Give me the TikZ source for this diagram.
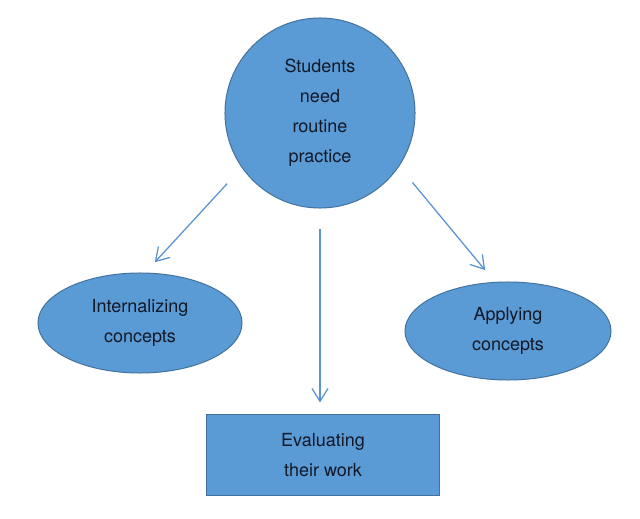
\documentclass[tikz,border=0pt]{standalone}
\usepackage{fontspec}
\setmainfont{TeX Gyre Heros}
\usepackage{tikz}
\usetikzlibrary{arrows.meta,shapes.geometric}
\definecolor{bubble}{HTML}{5B9BD5}
\definecolor{bubbleline}{HTML}{41719C}
\definecolor{arrowline}{HTML}{5A93D3}
\definecolor{ink}{HTML}{111827}

\begin{document}
\begin{tikzpicture}[
  x=0.025cm, y=-0.025cm,
  every node/.style={font=\fontsize{12.8}{21.3}\selectfont, text=ink, align=center},
  bubble/.style={fill=bubble, draw=bubbleline, line width=0.7pt},
  link/.style={draw=arrowline, line width=0.9pt, -{Straight Barb[length=3.2mm,width=4mm]}},
]
\useasboundingbox (0,0) rectangle (640,519);

% Central circle
\node[bubble, circle, minimum size=4.75cm] (need) at (320,113) {Students\\need\\routine\\practice};

% Outcomes
\node[bubble, ellipse, minimum width=5.1cm, minimum height=2.5cm] (intl) at (140,323) {Internalizing\\concepts};
\node[bubble, ellipse, minimum width=5.15cm, minimum height=2.45cm] (appl) at (508,331) {Applying\\concepts};
\node[bubble, rectangle, minimum width=5.825cm, minimum height=2cm] (eval) at (323,455) {Evaluating\\their work};

% Arrows
\draw[link, shorten <=0.54cm, shorten >=0.35cm] (need.215) -- (intl.84);
\draw[link, shorten <=0.5cm, shorten >=0.3cm] (need.south) -- (need.south |- eval.north);
\draw[link, shorten <=0.52cm, shorten >=0.38cm] (need.326) -- (appl.105);

\end{tikzpicture}
\end{document}
